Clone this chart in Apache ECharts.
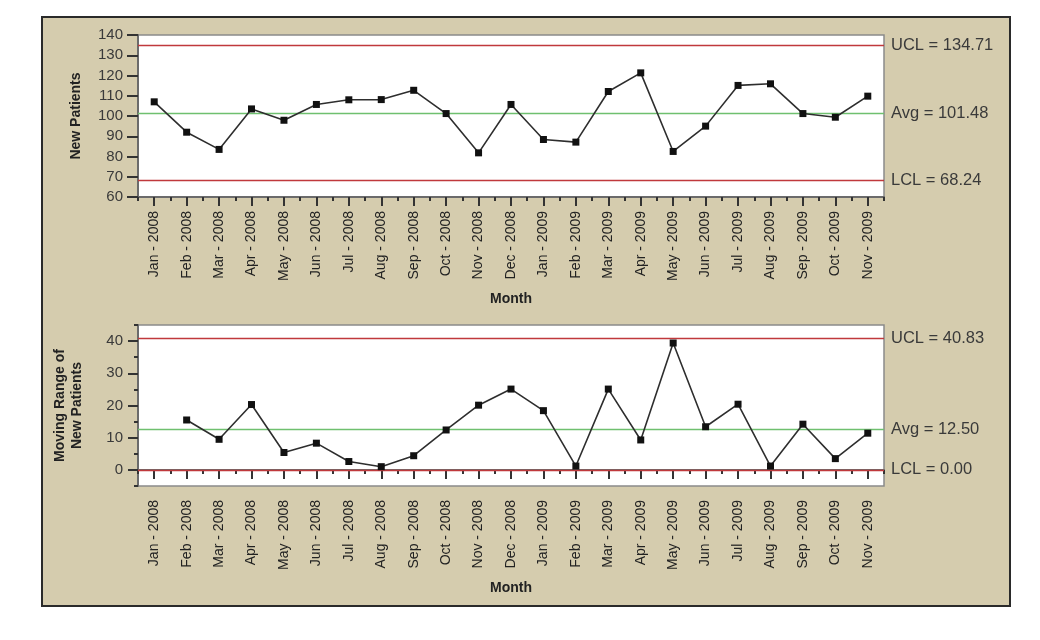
<!DOCTYPE html>
<html>
<head>
<meta charset="utf-8">
<script src="https://cdn.jsdelivr.net/npm/echarts@6/dist/echarts.min.js"></script>
<style>
html,body{margin:0;padding:0;background:#fff;}
#chart{width:1040px;height:640px;}
</style>
</head>
<body>
<div id="chart"></div>
<script>
const categories = ['Jan - 2008','Feb - 2008','Mar - 2008','Apr - 2008','May - 2008','Jun - 2008','Jul - 2008','Aug - 2008','Sep - 2008','Oct - 2008','Nov - 2008','Dec - 2008','Jan - 2009','Feb - 2009','Mar - 2009','Apr - 2009','May - 2009','Jun - 2009','Jul - 2009','Aug - 2009','Sep - 2009','Oct - 2009','Nov - 2009'];
const newPatients = [107.0, 92.0, 83.5, 103.5, 97.9, 105.7, 108.0, 108.1, 112.7, 101.2, 81.8, 105.7, 88.4, 87.1, 112.1, 121.3, 82.5, 95.0, 115.1, 115.9, 101.2, 99.4, 109.8];
const movingRange = [null, 15.5, 9.5, 20.3, 5.4, 8.3, 2.6, 1.0, 4.4, 12.4, 20.1, 25.1, 18.4, 1.2, 25.1, 9.3, 39.4, 13.4, 20.4, 1.2, 14.2, 3.5, 11.4];
const limitNames = ['UCL', 'Avg', 'LCL'];
const npLimits = [134.71, 101.48, 68.24];
const mrLimits = [40.83, 12.50, 0.00];
const npTicks = [60, 70, 80, 90, 100, 110, 120, 130, 140];
const mrTicks = [0, 10, 20, 30, 40];

const FONT = '"Liberation Sans", Arial, sans-serif';
const limitColors = ['#c0393c', '#6fc06f', '#c0393c'];
const textColor = '#3a3a3a';

function limitSeries(values, xIdx, yIdx) {
  return values.map((v, i) => ({
    type: 'line', xAxisIndex: xIdx, yAxisIndex: yIdx, data: [], silent: true,
    markLine: {
      silent: true, symbol: 'none', animation: false,
      lineStyle: { color: limitColors[i], width: 1.3, type: 'solid', opacity: 1 },
      label: {
        show: true, position: 'end', distance: 7,
        color: textColor, fontSize: 16.5, fontFamily: FONT,
        formatter: (p) => limitNames[i] + ' = ' + v.toFixed(2)
      },
      data: [{ yAxis: v }]
    },
    z: 3
  }));
}

function xAxes(gridIndex) {
  return [
    {
      type: 'category', gridIndex, data: categories, boundaryGap: true,
      axisLine: { show: true, lineStyle: { color: '#6b6b6b', width: 2 } },
      axisTick: { show: true, alignWithLabel: true, length: 9, lineStyle: { color: '#333', width: 2 } },
      axisLabel: { rotate: 90, margin: 14, color: '#222', fontSize: 14, fontFamily: FONT, interval: 0 },
      name: 'Month', nameLocation: 'middle', nameGap: 95,
      nameTextStyle: { fontWeight: 'bold', fontSize: 14, color: '#222', fontFamily: FONT }
    },
    {
      type: 'category', gridIndex, data: categories, boundaryGap: true, position: 'bottom',
      axisLine: { show: false },
      axisTick: { show: true, alignWithLabel: false, interval: 0, length: 4, lineStyle: { color: '#333', width: 2 } },
      axisLabel: { show: false }
    }
  ];
}

const option = {
  animation: false,
  backgroundColor: '#ffffff',
  graphic: [{
    type: 'rect', z: -100, silent: true,
    shape: { x: 42, y: 17, width: 968, height: 589 },
    style: { fill: '#d5ccae', stroke: '#2a2a2a', lineWidth: 2 }
  }],
  grid: [
    { left: 138, top: 35, width: 746, height: 162, show: true, backgroundColor: '#ffffff', borderColor: '#8a8a8a', borderWidth: 1.5 },
    { left: 138, top: 325, width: 746, height: 161, show: true, backgroundColor: '#ffffff', borderColor: '#8a8a8a', borderWidth: 1.5 }
  ],
  xAxis: [...xAxes(0), ...xAxes(1)],
  yAxis: [
    {
      type: 'value', gridIndex: 0, min: 60, max: 140, interval: 10, position: 'left',
      axisLine: { show: true, lineStyle: { color: '#6b6b6b', width: 2 } },
      axisTick: { show: true, length: 11, lineStyle: { color: '#333', width: 2 } },
      axisLabel: { color: textColor, fontSize: 15, fontFamily: FONT, margin: 15, customValues: npTicks },
      splitLine: { show: false },
      name: 'New Patients', nameLocation: 'middle', nameGap: 55, nameRotate: 90,
      nameTextStyle: { fontWeight: 'bold', fontSize: 14, color: '#222', fontFamily: FONT }
    },
    {
      type: 'value', gridIndex: 1, min: -5, max: 45, interval: 5, position: 'left',
      axisLine: { show: true, lineStyle: { color: '#6b6b6b', width: 2 } },
      axisTick: { show: true, length: 4, lineStyle: { color: '#333', width: 2 } },
      axisLabel: { color: textColor, fontSize: 15, fontFamily: FONT, margin: 15, customValues: mrTicks },
      splitLine: { show: false },
      name: 'Moving Range of\nNew Patients', nameLocation: 'middle', nameGap: 52, nameRotate: 90,
      nameTextStyle: { fontWeight: 'bold', fontSize: 14, color: '#222', fontFamily: FONT, lineHeight: 17 }
    },
    {
      type: 'value', gridIndex: 1, min: -5, max: 45, interval: 5, position: 'left', offset: 0,
      axisLine: { show: false },
      axisTick: { show: true, length: 10, customValues: mrTicks, lineStyle: { color: '#333', width: 2 } },
      axisLabel: { show: false },
      splitLine: { show: false }
    }
  ],
  series: [
    ...limitSeries(npLimits, 0, 0),
    ...limitSeries(mrLimits, 2, 1),
    {
      type: 'line', xAxisIndex: 0, yAxisIndex: 0, data: newPatients,
      symbol: 'rect', symbolSize: 7,
      lineStyle: { color: '#2e2e2e', width: 1.6 },
      itemStyle: { color: '#111' }, z: 5
    },
    {
      type: 'line', xAxisIndex: 2, yAxisIndex: 1, data: movingRange,
      symbol: 'rect', symbolSize: 7, connectNulls: false,
      lineStyle: { color: '#2e2e2e', width: 1.6 },
      itemStyle: { color: '#111' }, z: 5
    }
  ]
};

const chart = echarts.init(document.getElementById('chart'), null, { renderer: 'canvas' });
chart.setOption(option);
</script>
</body>
</html>
